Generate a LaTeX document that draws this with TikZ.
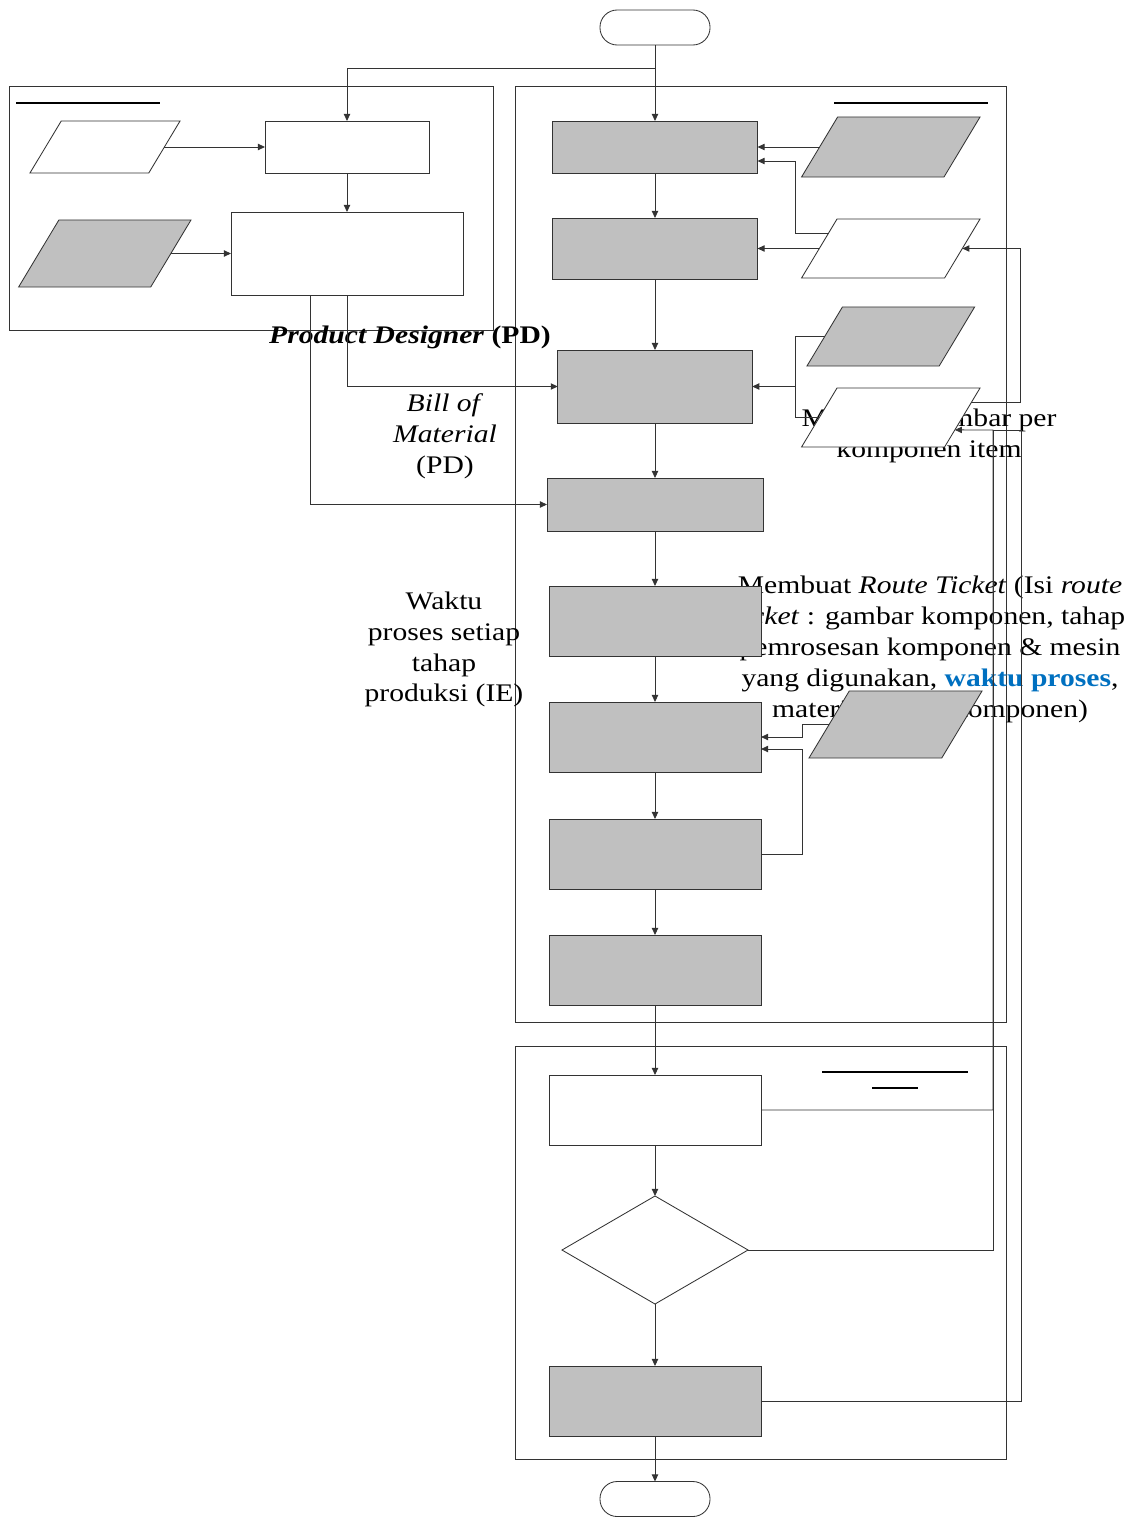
\documentclass[tikz,border=0pt]{standalone}
\usepackage{fontspec}
\setmainfont{Liberation Serif}[FakeStretch=1.17]
\usetikzlibrary{shapes.geometric,arrows.meta,calc}
\definecolor{abu}{RGB}{192,192,192}
\definecolor{biru}{RGB}{0,112,192}
\tikzset{
  garis/.style={draw=black!80, line width=0.6pt},
  flow/.style={garis, -{Triangle[length=5pt,width=4.5pt]}},
  proses/.style={rectangle, draw=black!80, line width=0.6pt, inner sep=0pt, outer sep=0pt, fill=white},
  kotak/.style={proses, fill=abu, minimum width=5.3cm, minimum height=1.75cm},
  data/.style={trapezium, trapezium left angle=59, trapezium right angle=121,
    draw=black!80, line width=0.6pt, outer sep=0pt, fill=white,
    inner xsep=1.344cm, inner ysep=0.7375cm},
  terminal/.style={rectangle, rounded corners=0.43cm, draw=black!80, line width=0.6pt,
    inner sep=0pt, outer sep=0pt, minimum width=2.75cm, minimum height=0.875cm},
  teks/.style={font=\fontsize{18}{22}\selectfont, align=center, inner sep=0pt},
  judul/.style={line width=1pt, black}
}
\begin{document}
\begin{tikzpicture}[x=0.025cm, y=-0.025cm]
    \useasboundingbox (0,0) rectangle (1136,1517);

    % jalur (lane)
    \draw[garis] (9,86) rectangle (493,330);
    \draw[garis] (515,86) rectangle (1006,1022);
    \draw[garis] (515,1046) rectangle (1006,1459);
    \draw[judul] (16,103) -- (160,103);
    \draw[judul] (834,103) -- (988,103);
    \draw[judul] (822,1072) -- (968,1072);
    \draw[judul] (872,1088) -- (918,1088);

    % teks keterangan
    \node[teks] (pdlabel) at (410,337) {\textbf{\textit{Product Designer} (PD)}};
    \node[teks] (bom) at (445,436) {\textit{Bill of}\\\textit{Material}\\(PD)};
    \node[teks] (waktu) at (444,649.5) {Waktu\\proses setiap\\tahap\\produksi (IE)};
    \node[teks] (gambar) at (929,436) {Membuat gambar per\\komponen item};
    \node[teks] (rute) at (930,649.5) {Membuat \textit{Route Ticket} (Isi \textit{route}\\
      \textit{ticket} : gambar komponen, tahap\\pemrosesan komponen \& mesin\\
      yang digunakan, \textcolor{biru}{\textbf{waktu proses}},\\material setiap komponen)};

    % jalur PD
    \node[terminal] (mulai) at (655,27.5) {};
    \node[proses, minimum width=4.1cm, minimum height=1.3cm] (pd1) at (347,147) {};
    \node[proses, minimum width=5.8cm, minimum height=2.075cm] (pd2) at (347,253.5) {};
    \node[data, inner xsep=1.094cm, inner ysep=0.65cm] (pdin1) at (105,147) {};
    \node[data, fill=abu, inner xsep=1.148cm, inner ysep=0.8375cm] (pdin2) at (104.8,253.5) {};

    % jalur produksi
    \node[kotak, minimum width=5.125cm, minimum height=1.3cm] (a1) at (655,147) {};
    \node[kotak, minimum width=5.125cm, minimum height=1.525cm] (a2) at (655,248.5) {};
    \node[kotak, minimum width=4.86cm, minimum height=1.825cm] (a3) at (655,386.5) {};
    \node[kotak, minimum width=5.4cm, minimum height=1.325cm] (a4) at (655,504.5) {};
    \node[kotak] (a5) at (655,621) {};
    \node[kotak] (a6) at (655,737) {};
    \node[kotak] (a7) at (655,854) {};
    \node[kotak] (a8) at (655,970) {};
    \node[data, fill=abu, inner xsep=1.329cm, inner ysep=0.75cm] (in1) at (890.8,147) {};
    \node[data] (in2) at (890.8,248.5) {};
    \node[data, fill=abu, inner xsep=1.209cm] (in3) at (890.8,336.5) {};
    \node[data] (in4) at (890.8,417.5) {};
    \node[data, fill=abu, inner xsep=1.156cm, inner ysep=0.8375cm] (in5) at (895.5,724.5) {};

    % jalur QC
    \node[kotak, fill=white] (b1) at (655,1110) {};
    \node[diamond, draw=black!80, line width=0.6pt, inner sep=0pt, outer sep=0pt, fill=white,
      minimum width=4.65cm, minimum height=2.7cm] (b2) at (655,1250) {};
    \node[kotak] (b3) at (655,1401) {};
    \node[terminal] (selesai) at (655,1499) {};

    % panah utama
    \coordinate (cabang) at (655,68);
    \draw[flow] (mulai.south) -- (a1.north);
    \draw[flow] (cabang) -| (pd1.north);
    \draw[flow] (pdin1.right side) -- (pd1.west);
    \draw[flow] (pd1.south) -- (pd2.north);
    \draw[flow] (pdin2.right side) -- (pd2.west);
    \draw[flow] (pd2.south) |- (a3.west);
    \draw[flow] ($(pd2.south)+(-37,0)$) |- (a4.west);
    \foreach \dari/\ke in {a1/a2, a2/a3, a3/a4, a4/a5, a5/a6, a6/a7, a7/a8, a8/b1, b1/b2, b2/b3, b3/selesai}
        \draw[flow] (\dari.south) -- (\ke.north);

    % input dokumen
    \draw[flow] (in1.left side) -- (a1.east);
    \draw[flow] (in2.left side) -- (a2.east);
    \draw[flow] ($(in2.top left corner)!0.24!(in2.bottom left corner)$) -| ($(a1.east)+(38,14)$) -- ($(a1.east)+(0,14)$);
    \coordinate (j3) at ($(a3.east)+(43,0)$);
    \draw[garis] (in3.left side) -| (j3) |- (in4.left side);
    \draw[flow] (j3) -- (a3.east);
    \draw[flow] ($(in4.top right corner)!0.25!(in4.bottom right corner)$) -| ($(in2.right side)+(58,0)$) -- (in2.right side);
    \draw[flow] (in5.left side) -| ($(a6.east)+(41,0)$) -- (a6.east);
    \draw[flow] (a7.east) -| ($(a6.east)+(41,12)$) -- ($(a6.east)+(0,12)$);

    % umpan balik QC
    \coordinate (masuk4) at ($(in4.top right corner)!0.71!(in4.bottom right corner)$);
    \coordinate (busL) at (993,430);
    \coordinate (busR) at (1021,430);
    \draw[flow] (b1.east) -| (busL) -- (masuk4);
    \draw[garis] (b2.east) -| (busL);
    \draw[garis] (b3.east) -| (busR) -- (busL);
\end{tikzpicture}
\end{document}
